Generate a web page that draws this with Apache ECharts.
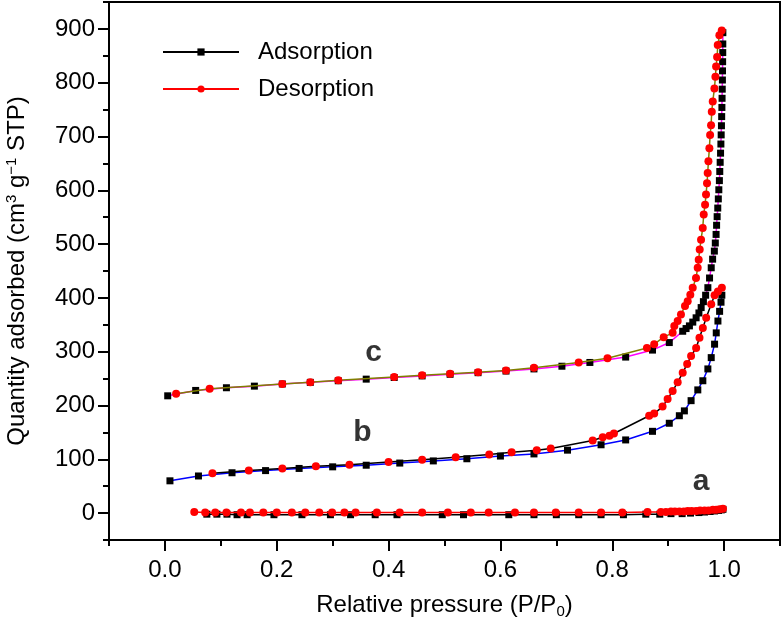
<!DOCTYPE html>
<html>
<head>
<meta charset="utf-8">
<script src="https://cdn.jsdelivr.net/npm/echarts@6/dist/echarts.min.js"></script>
<style>html,body{margin:0;padding:0;background:#fff}#c{width:781px;height:619px}</style>
</head>
<body>
<div id="c"></div>
<script>
// ---- data ----
var xTickLabels = [0, 0.2, 0.4, 0.6, 0.8, 1.0];
var yTickLabels = [0, 100, 200, 300, 400, 500, 600, 700, 800, 900];

// sample a
var aAdsP = [0.075,0.093,0.111,0.129,0.147,0.195,0.245,0.296,0.332,0.376,0.415,0.496,0.534,0.615,0.66,0.70,0.74,0.78,0.82,0.86,0.885,0.905,0.925,0.94,0.955,0.965,0.975,0.983,0.99,0.995,0.998];
var aAdsV = [-2,-2,-2,-3,-3,-3,-3,-3,-3,-3,-3,-3,-3,-3,-3,-3,-3,-3,-3,-2,-2,-1,-1,0,1,2,3,4,5,6,7];
var aDesP = [0.0525,0.072,0.09,0.11,0.136,0.152,0.176,0.2,0.227,0.251,0.276,0.299,0.321,0.341,0.379,0.42,0.46,0.506,0.547,0.579,0.626,0.66,0.699,0.74,0.78,0.818,0.863,0.887,0.896,0.905,0.912,0.92,0.928,0.935,0.942,0.95,0.957,0.965,0.972,0.98,0.986,0.992,0.998];
var aDesV = [2,1,1,1,1,1,1,1,1,1,1,1,1,1,1,1,1,1,1,1,1,1,1,1,1,1,2,2,2,3,3,3,3,4,4,4,5,5,5,6,6,7,8];

// sample b
var bAdsP = [0.009,0.06,0.12,0.18,0.24,0.30,0.36,0.42,0.48,0.54,0.60,0.66,0.72,0.78,0.824,0.872,0.902,0.92,0.929,0.941,0.953,0.962,0.971,0.977,0.983,0.986,0.989,0.992,0.9945,0.996];
var bAdsV = [60,69,75,79,83,86,89,93,97,101,106,110,117,127,136,152,167,181,190,209,229,246,268,289,314,335,357,375,392,405];
var bDesP = [0.085,0.15,0.21,0.27,0.33,0.40,0.46,0.52,0.58,0.62,0.665,0.69,0.765,0.783,0.795,0.803,0.866,0.875,0.890,0.899,0.908,0.917,0.926,0.934,0.941,0.950,0.956,0.962,0.968,0.977,0.983,0.989,0.996];
var bDesV = [74,79,83,87,90,95,99,104,109,113,117,120,135,141,144,148,181,185,198,212,227,243,261,277,292,307,326,344,363,388,405,412,419];

// sample c
var cAdsP = [0.005,0.055,0.11,0.16,0.21,0.26,0.31,0.36,0.41,0.46,0.51,0.56,0.61,0.66,0.71,0.76,0.824,0.872,0.902,0.926,0.932,0.938,0.944,0.950,0.955,0.959,0.963,0.967,0.971,0.974,0.977,0.9795,0.9826,0.9843,0.9857,0.9866,0.9876,0.9887,0.9897,0.9906,0.9916,0.9923,0.993,0.9937,0.9943,0.9948,0.9953,0.9957,0.9961,0.9964,0.9967,0.997,0.9972,0.9974,0.9976,0.9977,0.9978];
var cAdsV = [218,228,233,236,240,243,246,249,252,255,258,261,264,268,273,280,290,303,317,338,343,348,355,363,372,382,393,405,419,437,456,472,487,502,518,535,551,567,584,601,618,635,652,669,686,703,720,737,754,771,788,805,822,839,856,872,893];
var cDesP = [0.02,0.08,0.21,0.26,0.31,0.41,0.46,0.51,0.56,0.61,0.66,0.74,0.7915,0.862,0.875,0.892,0.908,0.911,0.917,0.9229,0.9301,0.9349,0.9396,0.9439,0.9498,0.9528,0.9546,0.9564,0.9588,0.9618,0.9636,0.966,0.9677,0.9695,0.9707,0.972,0.9737,0.975,0.9767,0.978,0.9797,0.9827,0.9845,0.9857,0.9875,0.9887,0.9916,0.9958];
var cDesV = [222,231,240,243,247,253,256,259,262,265,270,280,288,307,314,327,335,348,357,369,385,394,406,419,437,456,471,490,508,530,555,573,592,613,632,654,678,703,721,746,765,789,811,830,848,870,888,897];

// curve labels
var curveNames = ['a', 'b', 'c'];
var curveLabelP = [0.959, 0.353, 0.373];
var curveLabelV = [59, 150, 298];

function zip(p, v) { return p.map(function (x, i) { return [x, v[i]]; }); }

var FONT = 'Liberation Sans';
var chart = echarts.init(document.getElementById('c'), null, {renderer: 'canvas'});

function adsSeries(p, v, lineColor) {
  return {
    type: 'line', name: 'Adsorption', data: zip(p, v), xAxisIndex: 0, yAxisIndex: 0,
    symbol: 'rect', symbolSize: 7, showSymbol: true,
    itemStyle: {color: '#000'}, lineStyle: {color: lineColor, width: 1.5},
    emphasis: {disabled: true}, z: 3
  };
}
function desSeries(p, v, lineColor) {
  return {
    type: 'line', name: 'Desorption', data: zip(p, v), xAxisIndex: 0, yAxisIndex: 0,
    symbol: 'circle', symbolSize: 8, showSymbol: true,
    itemStyle: {color: '#ff0000'}, lineStyle: {color: lineColor, width: 1.5},
    emphasis: {disabled: true}, z: 4
  };
}

var labelData = curveNames.map(function (n, i) { return [curveLabelP[i], curveLabelV[i], n]; });

var option = {
  animation: false,
  grid: {left: 109, right: 1, top: 2, bottom: 79, containLabel: false, outerBoundsMode: 'none',
    show: true, borderColor: '#000', borderWidth: 2, backgroundColor: 'transparent'},
  legend: {
    data: ['Adsorption', 'Desorption'],
    orient: 'vertical', left: 162, top: 40,
    itemWidth: 76, itemHeight: 9, itemGap: 13, padding: 0,
    textStyle: {fontFamily: FONT, fontSize: 24, color: '#000', padding: [0, 0, 0, 14]},
    selectedMode: false
  },
  xAxis: [{
    type: 'value', min: -0.1, max: 1.1, position: 'bottom',
    name: 'Relative pressure (P/P{sub|0})', nameLocation: 'middle', nameGap: 52,
    nameTextStyle: {fontFamily: FONT, fontSize: 24, color: '#000',
      rich: {sub: {fontFamily: FONT, fontSize: 15, color: '#000', verticalAlign: 'bottom', padding: [12, 0, 0, 0]}}},
    axisLine: {show: true, onZero: false, lineStyle: {color: '#000', width: 2}},
    axisTick: {show: true, inside: false, length: 11, lineStyle: {color: '#000', width: 2}, customValues: xTickLabels},
    axisLabel: {show: true, margin: 18, fontFamily: FONT, fontSize: 24, color: '#000', customValues: xTickLabels,
      formatter: function (v) { return v.toFixed(1); }},
    splitLine: {show: false}
  }, {
    type: 'value', min: -0.1, max: 1.1, interval: 0.1, position: 'bottom', offset: 0,
    axisLine: {show: false, onZero: false},
    axisTick: {show: true, inside: false, length: 6, lineStyle: {color: '#000', width: 2}},
    axisLabel: {show: false}, splitLine: {show: false}
  }],
  yAxis: [{
    type: 'value', min: -50, max: 950, position: 'left',
    name: 'Quantity adsorbed (cm{sup|3} g{sup|\u22121} STP)', nameLocation: 'middle', nameGap: 78,
    nameTextStyle: {fontFamily: FONT, fontSize: 24, color: '#000',
      rich: {sup: {fontFamily: FONT, fontSize: 15, color: '#000', verticalAlign: 'top', padding: [0, 0, 12, 0]}}},
    axisLine: {show: true, onZero: false, lineStyle: {color: '#000', width: 2}},
    axisTick: {show: true, inside: false, length: 11, lineStyle: {color: '#000', width: 2}, customValues: yTickLabels},
    axisLabel: {show: true, margin: 14, fontFamily: FONT, fontSize: 24, color: '#000', customValues: yTickLabels},
    splitLine: {show: false}
  }, {
    type: 'value', min: -50, max: 950, interval: 50, position: 'left', offset: 0,
    axisLine: {show: false, onZero: false},
    axisTick: {show: true, inside: false, length: 6, lineStyle: {color: '#000', width: 2}},
    axisLabel: {show: false}, splitLine: {show: false}
  }],
  series: [
    adsSeries(aAdsP, aAdsV, '#000000'),
    desSeries(aDesP, aDesV, '#ff0000'),
    adsSeries(bAdsP, bAdsV, '#0000ff'),
    desSeries(bDesP, bDesV, '#000000'),
    adsSeries(cAdsP, cAdsV, '#ff00ff'),
    desSeries(cDesP, cDesV, '#808000'),
    {
      type: 'scatter', name: 'labels', data: labelData, symbolSize: 0, silent: true,
      label: {show: true, position: 'inside', fontFamily: FONT, fontSize: 30, fontWeight: 'bold', color: '#000',
        formatter: function (p) { return p.value[2]; }},
      z: 10
    }
  ]
};
chart.setOption(option);
</script>
</body>
</html>
